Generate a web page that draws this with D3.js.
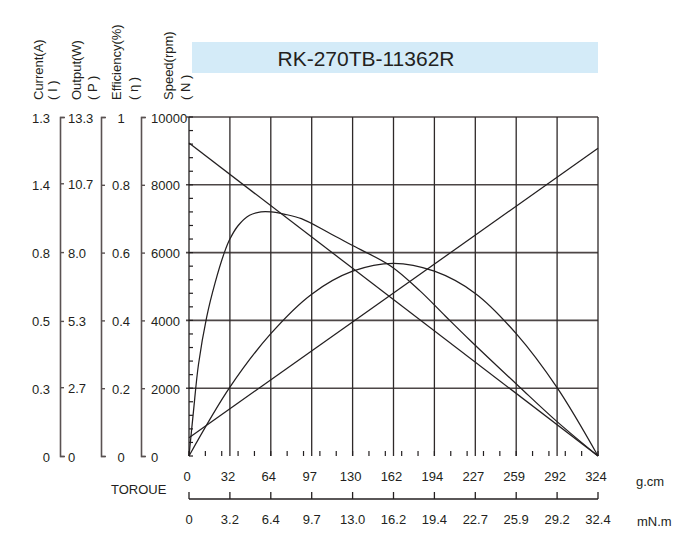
<!DOCTYPE html>
<html>
<head>
<meta charset="utf-8">
<script src="https://cdn.jsdelivr.net/npm/d3@7"></script>
<style>
  body { margin: 0; background: #fff; }
  svg text { font-family: "Liberation Sans", Arial, sans-serif; fill: #231f20; }
</style>
</head>
<body>
<div id="chart"></div>
<script>
// values
const title = "RK-270TB-11362R"
const torqueGcm = ["0", "32", "64", "97", "130", "162", "194", "227", "259", "292", "324"]
const torqueMNm = ["0", "3.2", "6.4", "9.7", "13.0", "16.2", "19.4", "22.7", "25.9", "29.2", "32.4"]
const currentLabels = ["0", "0.3", "0.5", "0.8", "1.4", "1.3"]
const outputLabels = ["0", "2.7", "5.3", "8.0", "10.7", "13.3"]
const effLabels = ["0", "0.2", "0.4", "0.6", "0.8", "1"]
const speedLabels = ["0", "2000", "4000", "6000", "8000", "10000"]

// torque in g.cm
const speedT = [0, 324]
const speedN = [9230, 0]            // rpm
const currentT = [0, 324]
const currentI = [0.07, 1.18]       // A
const outputT = [0, 32.4, 64.8, 97.2, 129.6, 162, 194.4, 226.8, 259.2, 291.6, 324]
const outputP = [0, 2.7, 4.8, 6.35, 7.25, 7.56, 7.25, 6.38, 4.8, 2.68, 0]   // W
const effT = [0, 3.5, 7.5, 14, 20.6, 28, 32.4, 39, 48, 57, 65, 76, 89, 110, 130, 160, 183, 203, 223, 262, 292, 324]
const effE = [0, 13, 27, 41, 51, 60, 64, 68, 71, 72, 72, 71.3, 70, 66, 62, 56, 48.7, 41.3, 34, 20.3, 10, 0]  // %

const svg = d3.select('#chart')
  .append('svg')
    .attr('width', 700)
    .attr('height', 550)

const x = d3.scaleLinear().domain([0, 324]).range([189, 598])
const yN = d3.scaleLinear().domain([0, 10000]).range([456, 117])
const yI = d3.scaleLinear().domain([0, 1.3]).range([456, 117])
const yP = d3.scaleLinear().domain([0, 13.3]).range([456, 117])
const yE = d3.scaleLinear().domain([0, 100]).range([456, 117])
const frac = d3.scaleLinear().domain([0, 5]).range([456, 117])  // shared left-axis tick slots

// title box
svg.append('rect')
  .attr('x', 192).attr('y', 42)
  .attr('width', 406).attr('height', 31)
  .attr('fill', '#d4ebf8')
svg.append('text')
  .attr('x', 366).attr('y', 58)
  .attr('text-anchor', 'middle')
  .attr('dominant-baseline', 'central')
  .style('font-size', '21px')
  .text(title)

// rotated axis names
const names = [
  ['Current(A)', 43], ['( I )', 57],
  ['Output(W)', 81], ['( P )', 97],
  ['Efficiency(%)', 121], ['( η )', 138],
  ['Speed(rpm)', 173], ['( N )', 190]
]
svg.append('g')
  .selectAll('text')
  .data(names)
  .enter()
  .append('text')
    .attr('transform', d => `translate(${d[1]},100) rotate(-90)`)
    .style('font-size', '13px')
    .text(d => d[0])

// current labels (no axis line)
svg.append('g')
  .selectAll('text')
  .data(currentLabels)
  .enter()
  .append('text')
    .attr('x', 50)
    .attr('y', (d, i) => frac(i) + 1)
    .attr('text-anchor', 'end')
    .attr('dominant-baseline', 'central')
    .style('font-size', '13px')
    .text(d => d)

// the three bracketed left axes
function leftAxis(xPos, scale, values, labels, labelX, anchor) {
  const g = svg.append('g').attr('transform', `translate(${xPos},0)`)
  g.call(d3.axisRight(scale).tickValues(values).tickSize(4).tickSizeOuter(5).tickFormat(''))
  g.select('.domain').attr('stroke', '#5a5252').attr('stroke-width', 1.6)
  g.selectAll('.tick line').attr('stroke', '#5a5252').attr('stroke-width', 1.4)
  g.selectAll('.lbl')
    .data(values)
    .enter()
    .append('text')
      .attr('class', 'lbl')
      .attr('x', labelX)
      .attr('y', d => scale(d) + 1)
      .attr('text-anchor', anchor)
      .attr('dominant-baseline', 'central')
      .style('font-size', '13px')
      .text((d, i) => labels[i])
}
leftAxis(60, yP, outputLabels.map(Number), outputLabels, 8, 'start')
leftAxis(101, yE, [0, 20, 40, 60, 80, 100], effLabels, 20, 'middle')
leftAxis(141, yN, speedLabels.map(Number), speedLabels, 10, 'start')

// grid
const grid = svg.append('g')
grid.selectAll('.h')
  .data([2000, 4000, 6000, 8000, 10000])
  .enter()
  .append('line')
    .attr('x1', 186).attr('x2', 598)
    .attr('y1', d => yN(d)).attr('y2', d => yN(d))
    .style('stroke', '#4d4646')
    .style('stroke-width', 1.6)
grid.selectAll('.v')
  .data(d3.range(1, 11).map(i => i * 32.4))
  .enter()
  .append('line')
    .attr('x1', d => x(d)).attr('x2', d => x(d))
    .attr('y1', 117).attr('y2', 456)
    .style('stroke', '#2e2929')
    .style('stroke-width', 1.3)

// plot left edge with minor ticks every 400 rpm
grid.append('line')
  .attr('x1', x(0)).attr('x2', x(0))
  .attr('y1', 117).attr('y2', 456)
  .style('stroke', '#231f20')
  .style('stroke-width', 1.3)
grid.selectAll('.mn')
  .data(d3.range(0, 10001, 400))
  .enter()
  .append('line')
    .attr('x1', x(0)).attr('x2', x(0) + 4)
    .attr('y1', d => yN(d)).attr('y2', d => yN(d))
    .style('stroke', '#231f20')
    .style('stroke-width', 1.2)

// bottom minor torque ticks
grid.selectAll('.mt')
  .data(d3.range(0, 26).map(i => i * 324 / 25))
  .enter()
  .append('line')
    .attr('x1', d => x(d)).attr('x2', d => x(d))
    .attr('y1', 451).attr('y2', 456)
    .style('stroke', '#231f20')
    .style('stroke-width', 1.2)

// curves
const curves = svg.append('g')
  .style('fill', 'none')
  .style('stroke', '#231f20')
  .style('stroke-width', 1.25)

const smooth = d3.curveCatmullRom.alpha(0.5)
curves.append('path')
  .attr('d', d3.line().x(d => x(d[0])).y(d => yN(d[1]))(d3.zip(speedT, speedN)))
curves.append('path')
  .attr('d', d3.line().x(d => x(d[0])).y(d => yI(d[1]))(d3.zip(currentT, currentI)))
curves.append('path')
  .attr('d', d3.line().curve(smooth).x(d => x(d[0])).y(d => yP(d[1]))(d3.zip(outputT, outputP)))
curves.append('path')
  .attr('d', d3.line().curve(smooth).x(d => x(d[0])).y(d => yE(d[1]))(d3.zip(effT, effE)))

// torque labels (g.cm)
const ticksAt = d3.range(0, 11).map(i => i * 32.4)
svg.append('g')
  .selectAll('text')
  .data(torqueGcm)
  .enter()
  .append('text')
    .attr('x', (d, i) => x(ticksAt[i]) - 2)
    .attr('y', 476)
    .attr('text-anchor', 'middle')
    .attr('dominant-baseline', 'central')
    .style('font-size', '13px')
    .text(d => d)
svg.append('text')
  .attr('x', 636).attr('y', 481)
  .attr('dominant-baseline', 'central')
  .style('font-size', '13px')
  .text('g.cm')
svg.append('text')
  .attr('x', 111).attr('y', 489)
  .attr('dominant-baseline', 'central')
  .style('font-size', '13px')
  .text('TOROUE')

// second torque axis (mN.m)
const mnm = svg.append('g')
mnm.append('line')
  .attr('x1', x(0)).attr('x2', x(324))
  .attr('y1', 499).attr('y2', 499)
  .style('stroke', '#231f20')
  .style('stroke-width', 1.3)
mnm.selectAll('.tk')
  .data(ticksAt)
  .enter()
  .append('line')
    .attr('x1', d => x(d)).attr('x2', d => x(d))
    .attr('y1', 492).attr('y2', 499)
    .style('stroke', '#231f20')
    .style('stroke-width', 1.3)
mnm.selectAll('text')
  .data(torqueMNm)
  .enter()
  .append('text')
    .attr('x', (d, i) => x(ticksAt[i]))
    .attr('y', 519)
    .attr('text-anchor', 'middle')
    .attr('dominant-baseline', 'central')
    .style('font-size', '13px')
    .text(d => d)
svg.append('text')
  .attr('x', 637).attr('y', 521)
  .attr('dominant-baseline', 'central')
  .style('font-size', '13px')
  .text('mN.m')
</script>
</body>
</html>
